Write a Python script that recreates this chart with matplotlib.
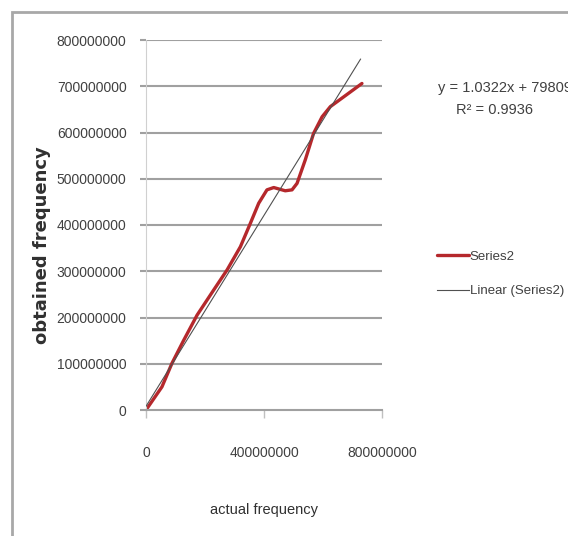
import numpy as np
import matplotlib.pyplot as plt
from matplotlib.patches import Rectangle

# measured frequencies (Hz)
actual = [0, 54e6, 88e6, 128e6, 173e6, 229e6, 275e6, 320e6, 354e6, 382e6,
          410e6, 433e6, 472e6, 495e6, 512e6, 540e6, 568e6, 597e6, 625e6,
          670e6, 732e6]
obtained = [0, 50e6, 101e6, 151e6, 205e6, 259e6, 303e6, 353e6, 404e6, 447e6,
            476e6, 481e6, 474e6, 476e6, 490e6, 541e6, 598e6, 634e6, 656e6,
            677e6, 706e6]

# linear trendline from the fit
slope = 1.0322
intercept = 7980900
r2 = 0.9936

yticks = [0, 100e6, 200e6, 300e6, 400e6, 500e6, 600e6, 700e6, 800e6]
xticks = [0, 400e6, 800e6]

W, H = 568, 536
fig = plt.figure(figsize=(W / 100, H / 100), dpi=100)
narrow = ['Liberation Sans', 'DejaVu Sans']

# outer chart frame
fig.patches.append(Rectangle((12 / W, -0.05), 1.1, 1 - 12 / H + 0.05,
                             transform=fig.transFigure, fill=False,
                             edgecolor='#a8a8a8', linewidth=2))

ax = fig.add_axes([146 / W, (H - 410) / H, (382 - 146) / W, (410 - 40) / H])
ax.set_xlim(0, 800e6)
ax.set_ylim(0, 800e6)

for y in yticks[1:]:
    ax.axhline(y, color='#a0a0a0', linewidth=1.5, zorder=1)

xs = np.array([0, 0.909 * 800e6])
ax.plot(xs, slope * xs + intercept, color='#505050', linewidth=0.8, zorder=3,
        label='Linear (Series2)')
ax.plot(actual, obtained, color='#b5282c', linewidth=2.4, zorder=2,
        solid_joinstyle='round', solid_capstyle='round', label='Series2')

for s in ['top', 'right']:
    ax.spines[s].set_visible(False)
ax.spines['left'].set_color('#d0d0d0')
ax.spines['bottom'].set_color('#a0a0a0')
ax.spines['bottom'].set_linewidth(1.5)

ax.set_yticks(yticks)
ax.set_yticklabels(['%d' % v for v in yticks])
ax.set_xticks(xticks)
ax.set_xticklabels(['%d' % v for v in xticks])
ax.tick_params(axis='y', length=4, color='#a0a0a0', width=1.5, pad=10,
               labelsize=10, labelcolor='#404040')
ax.tick_params(axis='x', length=6, color='#c0c0c0', width=1, pad=20,
               labelsize=10, labelcolor='#404040')
for lab in ax.get_xticklabels() + ax.get_yticklabels():
    lab.set_family(narrow)

ax.set_xlabel('actual frequency', family=narrow, fontsize=10.5,
              color='#303030')
ax.xaxis.set_label_coords(0.5, -(510 - 410) / 370)
ax.xaxis.label.set_va('center')
ax.set_ylabel('obtained frequency', fontsize=13, fontweight='bold',
              color='#303030')
ax.yaxis.set_label_coords(-(146 - 42) / 236, (410 - 245) / 370)
ax.yaxis.label.set_va('center')

# legend drawn at the right of the plot
h, l = ax.get_legend_handles_labels()
leg = fig.legend(h[::-1], l[::-1], loc='center left',
                 bbox_to_anchor=(425 / W, 1 - 274 / H), frameon=False,
                 prop={'family': narrow, 'size': 9.5}, handlelength=2.4,
                 handletextpad=0.1, labelspacing=1.7, labelcolor='#404040')

fig.text(438 / W, 1 - 88 / H, 'y = %.4fx + %d' % (slope, intercept),
         family=narrow, fontsize=10.5, color='#404040', va='center')
fig.text(495 / W, 1 - 110 / H, 'R\u00b2 = %.4f' % r2,
         family=narrow, fontsize=10.5, color='#404040', va='center', ha='center')

fig.savefig('out.png', dpi=100)
